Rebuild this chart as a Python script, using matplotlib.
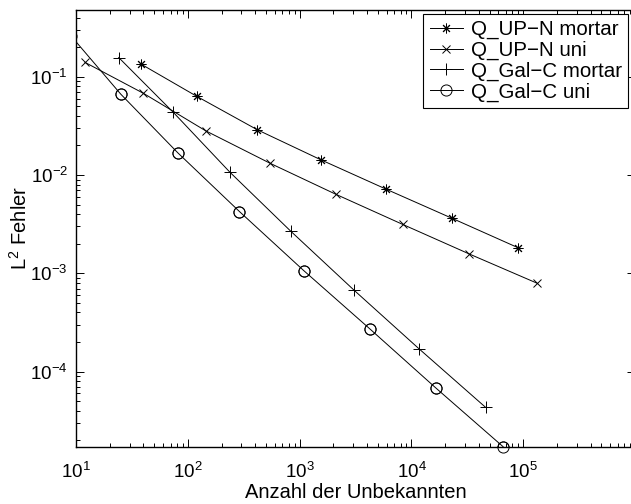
import numpy as np
import matplotlib
matplotlib.use("Agg")
import matplotlib.pyplot as plt
from matplotlib.ticker import FixedLocator

plt.rcParams['font.family'] = ['Liberation Sans', 'DejaVu Sans']
plt.rcParams['mathtext.default'] = 'regular'

# Anzahl der Unbekannten / L2-Fehler
upn_mortar_n = [38, 120, 417, 1540, 5900, 23100, 90000]
upn_mortar_err = [0.1346, 0.0632, 0.0289, 0.01432, 0.0072, 0.003626, 0.00182]

upn_uni_n = [12, 40, 144, 544, 2112, 8320, 33024, 131584]
upn_uni_err = [0.14, 0.0678, 0.0282, 0.01316, 0.00636, 0.00315, 0.00157, 0.000797]

galc_mortar_n = [24, 74, 238, 829, 3073, 11720, 46000]
galc_mortar_err = [0.157, 0.0434, 0.01065, 0.00269, 6.71e-4, 1.70e-4, 4.33e-5]

galc_uni_n = [9, 25, 81, 289, 1089, 4225, 16641, 66049]
galc_uni_err = [0.26, 0.0667, 0.01686, 0.00425, 0.001063, 2.73e-4, 6.76e-5, 1.72e-5]

labels = ['Q_UP\u2212N mortar', 'Q_UP\u2212N uni', 'Q_Gal\u2212C mortar', 'Q_Gal\u2212C uni']
x_major = [1e1, 1e2, 1e3, 1e4, 1e5]
y_major = [1e-4, 1e-3, 1e-2, 1e-1]

fig = plt.figure(figsize=(6.31, 5.04), dpi=100)
ax = fig.add_axes([76.2 / 631, 57.3 / 504, 558.8 / 631, 436.7 / 504])

lw = 0.7
ax.plot(upn_mortar_n, upn_mortar_err, 'k-', marker=(8, 2, 0), ms=7, mew=0.7, lw=lw, label=labels[0])
ax.plot(upn_uni_n, upn_uni_err, 'k-', marker='x', ms=6, mew=0.7, lw=lw, label=labels[1])
ax.plot(galc_mortar_n, galc_mortar_err, 'k-', marker='+', ms=8, mew=0.7, lw=lw, label=labels[2])
ax.plot(galc_uni_n, galc_uni_err, 'k-', marker='o', ms=8, mew=0.7, mfc='none', lw=lw, label=labels[3])

ax.set_xscale('log')
ax.set_yscale('log')
ax.set_xlim(10, 1e6)
ax.set_ylim(1.72e-5, 0.478)
ax.xaxis.set_major_locator(FixedLocator(x_major))
ax.yaxis.set_major_locator(FixedLocator(y_major))

# markers are not cut at the axes (like the last circle on the bottom line)
n = np.array(galc_uni_n)
e = np.array(galc_uni_err)
ax.plot(n[n >= 10], e[n >= 10], 'ko', ms=8, mew=0.7, mfc='none', ls='none', clip_on=False)

ax.tick_params(which='both', direction='in', top=True, right=True, labelsize=13.5, width=0.7)
ax.tick_params(axis='y', which='both', pad=6)
ax.tick_params(axis='x', which='both', pad=11)
ax.tick_params(which='major', length=5.5)
ax.tick_params(which='minor', length=3)
for s in ax.spines.values():
    s.set_linewidth(1.0)

ax.set_xlabel('Anzahl der Unbekannten', fontsize=14.5)
ax.set_ylabel('L$^2$ Fehler', fontsize=14.5)
ax.xaxis.set_label_coords(0.5, -0.083)
ax.yaxis.set_label_coords(-0.081, 0.5)

leg = ax.legend(loc='upper right', bbox_to_anchor=(0.9875, 0.9908), borderaxespad=0,
                fancybox=False, edgecolor='k', framealpha=1, fontsize=14.8,
                handlelength=1.6, handletextpad=0.4, labelspacing=0.07, borderpad=0.3)
leg.get_frame().set_linewidth(0.8)

fig.savefig('out.png', dpi=100)
